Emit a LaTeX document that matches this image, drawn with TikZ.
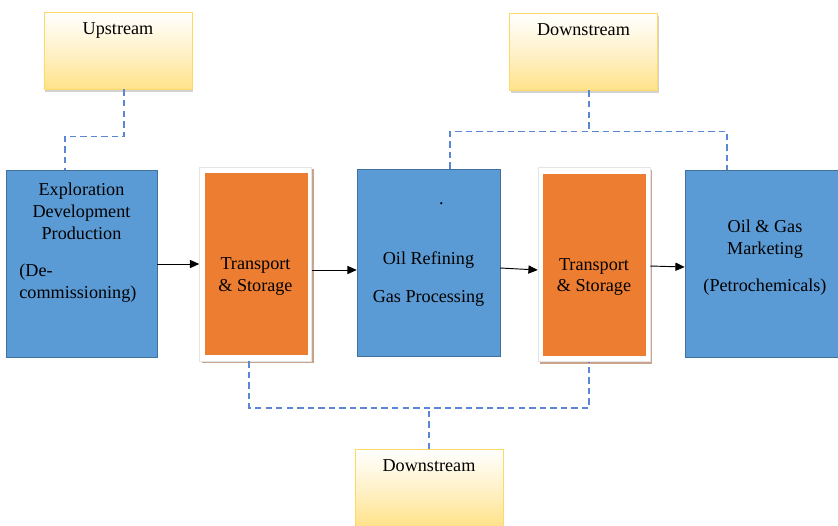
\documentclass[tikz,border=0pt]{standalone}
\usepackage{fontspec}
\setmainfont{Liberation Serif}
\usetikzlibrary{arrows.meta,shadows}
\definecolor{stageblue}{HTML}{5B9BD5}
\definecolor{stageline}{HTML}{41719C}
\definecolor{storeorange}{HTML}{ED7D31}
\definecolor{storeshadow}{HTML}{C9A38B}
\definecolor{tagyellow}{HTML}{FFE28A}
\definecolor{tagline}{HTML}{FFD966}
\definecolor{linkblue}{HTML}{5A86D5}
\begin{document}
\begin{tikzpicture}[x=0.03cm, y=-0.03cm, font=\fontsize{15.5}{18.7}\selectfont,
  stage/.style={draw=stageline, fill=stageblue, inner sep=0pt, align=center, minimum height=5.62cm},
  store/.style={draw=gray!20, fill=white, inner sep=0pt, align=center, minimum width=3.36cm, minimum height=5.82cm,
    general shadow={fill=storeshadow, shadow xshift=2pt, shadow yshift=-2pt},
    path picture={\fill[storeorange] ([shift={(0.15cm,-0.18cm)}]path picture bounding box.north west)
      rectangle ([shift={(-0.12cm,0.18cm)}]path picture bounding box.south east);}},
  tag/.style={draw=tagline, top color=white, bottom color=tagyellow, middle color=tagyellow!45, inner sep=0pt, anchor=north,
    minimum width=4.44cm, text height=0.66cm, text depth=1.65cm,
    general shadow={fill=gray!35, shadow xshift=1pt, shadow yshift=-2pt}},
  link/.style={linkblue, line width=1.5pt, dash pattern=on 5.5pt off 3.5pt},
  flow/.style={-{Triangle[length=8pt,width=7pt]}, line width=0.8pt}]
\useasboundingbox (0,0) rectangle (838,525);

% value chain
\node[stage, minimum width=4.53cm] (expl) at (81.5,264)
  {Exploration\\Development\\Production\\[13.6pt]\makebox[106pt][l]{(De-}\\\makebox[106pt][l]{commissioning)}\\[21pt]\mbox{}};
\node[store] (ts1) at (255.5,264) {\mbox{}\\[12.8pt]Transport\\\& Storage};
\node[stage, minimum width=4.29cm] (ref) at (428.5,262.5)
  {\hspace*{22pt}.\\[32.6pt]Oil Refining\\[13.6pt]Gas Processing\\[-2pt]\mbox{}};
\node[store] (ts2) at (594,264.5) {\mbox{}\\[12.8pt]Transport\\\& Storage};
\node[stage, minimum width=4.8cm] (mkt) at (765,263.5)
  {Oil \& Gas\\Marketing\\[12.8pt](Petrochemicals)\\[-5.8pt]\mbox{}};

% segments
\node[tag] (up) at (118,12) {Upstream};
\node[tag] (dtop) at (583.5,13) {Downstream};
\node[tag] (dbot) at (429,449) {Downstream};

\draw[flow] (expl.east) -- (expl.east -| ts1.west);
\draw[flow] ([yshift=-0.18cm]ts1.east) -- ([yshift=-0.18cm]ts1.east -| ref.west);
\draw[flow] ([yshift=-0.165cm]ref.east) -- ([yshift=-0.165cm]ts2.west);
\draw[flow] ([yshift=-0.045cm]ts2.east) -- ([yshift=-0.105cm]mkt.west);

\draw[link] ([xshift=0.18cm]up.south) -- ++(0,47) -| ([xshift=-0.495cm]expl.north);
\draw[link] ([xshift=0.165cm]dtop.south) -- ++(0,41) coordinate (jt);
\draw[link] ([xshift=0.645cm]ref.north) |- (jt) -| ([xshift=-1.14cm]mkt.north);
\draw[link] (dbot.north) -- ++(0,-41) coordinate (jb);
\draw[link] ([xshift=-0.195cm]ts1.south) |- (jb) -| ([xshift=-0.15cm]ts2.south);
\end{tikzpicture}
\end{document}
